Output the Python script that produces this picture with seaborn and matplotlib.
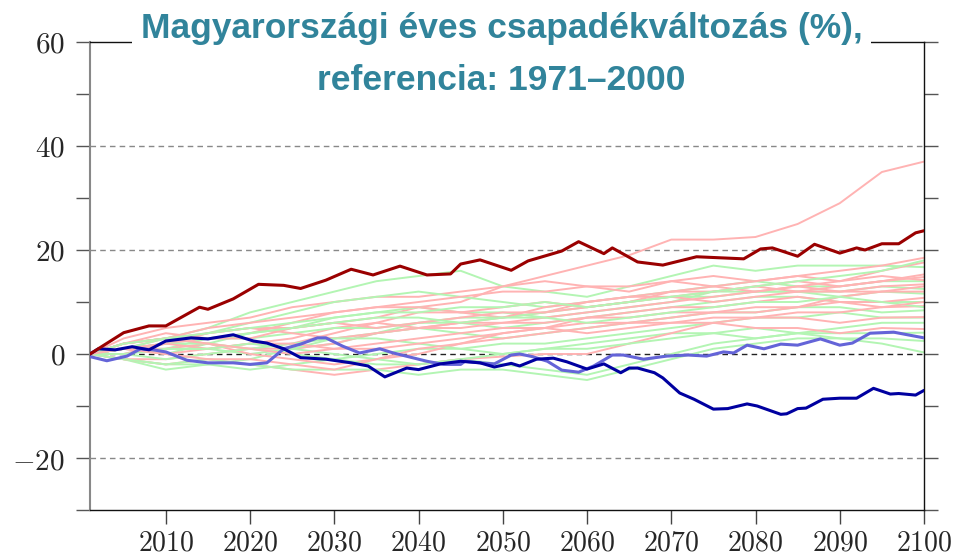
import numpy as np
import pandas as pd
import matplotlib
matplotlib.use("Agg")
import matplotlib.pyplot as plt
import seaborn as sns

# knot years for the light model lines
years_k = [2001, 2005, 2010, 2015, 2020, 2025, 2030, 2035, 2040, 2045, 2050,
           2055, 2060, 2065, 2070, 2075, 2080, 2085, 2090, 2095, 2100]

# light red (pink) model runs
pink_runs = {
    "p1": [0, 2, 3, 4, 5, 5, 6, 7, 9, 10, 13, 15, 17, 19, 22, 22, 22.5, 25, 29, 35, 37],
    "p2": [0, 3, 5, 6, 7, 9, 10, 11, 11, 12, 13, 14, 13, 12, 14, 15, 14, 15, 16, 17, 18.5],
    "p3": [0, 1, 2, 3, 4, 6, 8, 9, 10, 11, 12, 12, 13, 13, 14, 13, 14, 15, 14, 16, 17.6],
    "p4": [0, 2, 3, 2, 1, 2, 4, 6, 8, 8, 7, 8, 10, 11, 12, 12, 13, 14, 13, 14, 15.3],
    "p5": [0, 1, 0, 1, 2, 3, 5, 6, 5, 6, 7, 9, 10, 11, 11, 12, 13, 12, 13, 14, 14.8],
    "p6": [0, -1, -1, 0, 1, 1, 2, 4, 5, 6, 6, 7, 8, 9, 10, 11, 12, 13, 14, 15, 14.2],
    "p7": [0, 2, 4, 3, 3, 5, 6, 5, 6, 7, 8, 8, 9, 10, 11, 10, 11, 12, 12, 13, 13.4],
    "p8": [0, 1, 1, 2, 0, -1, -2, -1, 0, 2, 4, 5, 7, 8, 9, 9, 10, 11, 10, 10, 10.8],
    "p9": [0, 0, 2, 4, 5, 4, 3, 4, 5, 5, 6, 6, 7, 7, 8, 8, 9, 9, 10, 9, 9.2],
    "p10": [0, -1, -2, -1, -2, -3, -4, -3, -2, -1, -0.5, 0, 0, 2, 4, 6, 7, 7, 6, 7, 7.1],
    "p11": [0, 1, 2, 1, 2, 2, 1, 1, 2, 3, 4, 5, 4, 5, 6, 6, 5, 5, 4, 5, 4.8],
    "p12": [0, 2, 3, 5, 6, 7, 8, 9, 9, 8, 9, 10, 9, 10, 12, 13, 12, 13, 12, 12, 13],
    "p13": [0, 1, 3, 2, 1, 0, 1, 2, 3, 4, 5, 5, 6, 6, 7, 8, 8, 9, 11, 12, 12],
    "p14": [0, 1, 0, -1, -1, -2, -3, -1, 1, 2, 3, 4, 5, 6, 6, 7, 7, 8, 8, 9, 10],
}

# light green model runs
green_runs = {
    "g1": [0, 2, 3, 5, 8, 10, 12, 14, 15, 16, 13, 12, 11, 13, 15, 17, 16, 17, 17, 17, 16.7],
    "g2": [0, 1, 2, 4, 6, 8, 10, 11, 12, 11, 10, 9, 10, 11, 12, 13, 14, 13, 13, 14, 14],
    "g3": [0, 1, 0, 2, 4, 5, 7, 8, 9, 8, 8, 7, 8, 9, 10, 12, 12, 12, 12, 13, 12.5],
    "g4": [0, -1, -3, -2, -1, 1, 2, 4, 6, 7, 7, 8, 9, 10, 11, 11, 12, 12, 11, 12, 11.6],
    "g5": [0, 0, 1, 3, 3, 4, 5, 5, 6, 6, 5, 6, 7, 8, 9, 10, 11, 11, 10, 10, 10],
    "g6": [0, 1, 1, 1, 0, 1, 3, 4, 5, 4, 3, 4, 5, 6, 7, 8, 8, 9, 9, 8, 8.4],
    "g7": [0, -1, -2, -2, -3, -2, -1, 0, 1, 1, 2, 2, 3, 4, 5, 6, 7, 7, 8, 7, 7],
    "g8": [0, 0, -1, 0, 1, 0, -1, -2, -2, -1, -2, -3, -4, -2, 0, 2, 3, 4, 5, 6, 6.0],
    "g9": [0, 1, 2, 2, 1, 2, 3, 3, 2, 1, 0, 1, 2, 3, 4, 4, 5, 4, 4, 4, 4.1],
    "g10": [0, -1, -2, -1, -2, -3, -3, -3, -4, -3, -3, -4, -5, -3, -1, 1, 2, 3, 3, 3, 2.5],
    "g11": [0, 0, 1, 1, 2, 1, 0, -1, -2, -1, 0, 1, 1, 2, 3, 4, 3, 4, 3, 2, 0.3],
    "g12": [0, 2, 3, 4, 5, 6, 7, 8, 8, 9, 9, 10, 9, 10, 11, 12, 13, 14, 15, 16, 18],
    "g13": [0, 1, 3, 3, 4, 5, 6, 7, 7, 6, 7, 7, 6, 7, 8, 9, 10, 10, 11, 10, 9],
}

# highlighted runs (year, value)
max_years = [2001, 2005, 2008, 2010, 2014, 2015, 2018, 2021, 2024, 2026, 2029, 2032,
             2034.6, 2037.8, 2041, 2043.8, 2045, 2047.3, 2051, 2053, 2057, 2059, 2062,
             2063, 2066, 2069, 2073, 2078.6, 2080.6, 2082, 2085, 2087, 2090, 2092,
             2093, 2095, 2097, 2099, 2100]
max_vals = [0, 4.1, 5.4, 5.4, 9.0, 8.6, 10.6, 13.4, 13.2, 12.6, 14.2, 16.3,
            15.2, 16.9, 15.2, 15.4, 17.3, 18.1, 16.1, 17.9, 19.8, 21.6, 19.3,
            20.4, 17.7, 17.1, 18.7, 18.3, 20.2, 20.4, 18.8, 21.1, 19.4, 20.4,
            20.0, 21.2, 21.2, 23.3, 23.7]

min_years = [2001, 2002, 2004, 2006, 2008, 2010, 2013, 2015, 2018, 2020.4, 2022,
             2024, 2026, 2029, 2032, 2034, 2036, 2038.6, 2040, 2042.6, 2045, 2047.3,
             2049, 2051, 2052, 2054, 2056, 2057.6, 2060, 2062, 2064, 2065, 2066,
             2068, 2069, 2071, 2072.7, 2075, 2076.7, 2079, 2080.2, 2083, 2083.7,
             2085, 2086, 2088, 2090, 2092, 2094, 2096, 2097, 2099, 2100]
min_vals = [0, 1.0, 0.8, 1.4, 0.8, 2.5, 3.1, 2.9, 3.7, 2.5, 2.1,
            1.0, -0.7, -1.0, -1.7, -2.3, -4.4, -2.7, -3.0, -1.9, -1.4, -1.7,
            -2.5, -1.8, -2.3, -1.0, -0.8, -1.5, -2.9, -1.9, -3.6, -2.7, -2.7,
            -3.6, -4.6, -7.5, -8.7, -10.6, -10.5, -9.6, -10.0, -11.6, -11.5,
            -10.5, -10.4, -8.7, -8.5, -8.5, -6.6, -7.7, -7.6, -7.9, -7.0]

mid_years = [2001, 2003, 2005.4, 2007, 2008.5, 2010, 2012.5, 2015, 2018, 2020, 2022,
             2024, 2026, 2028, 2029, 2031, 2033, 2035.4, 2037, 2041, 2043, 2045,
             2045.5, 2047.3, 2049, 2051, 2052, 2053.5, 2055.3, 2057, 2059, 2060.8,
             2063, 2064.3, 2066.7, 2069.5, 2072, 2074.2, 2076.2, 2077.4, 2079, 2081,
             2083, 2085, 2087.7, 2090, 2091.5, 2093.6, 2096.4, 2100]
mid_vals = [-0.5, -1.3, -0.4, 1.0, 0.8, 0.4, -1.2, -1.7, -1.7, -2.0, -1.7,
            1.0, 1.9, 3.1, 3.1, 1.5, 0.2, 1.0, 0.2, -1.4, -2.0, -2.0,
            -1.4, -1.7, -1.9, -0.2, 0.0, -0.5, -1.4, -3.1, -3.5, -2.3,
            -0.2, -0.2, -1.0, -0.4, -0.2, -0.4, 0.4, 0.2, 1.7, 1.0,
            1.9, 1.7, 2.9, 1.7, 2.1, 4.0, 4.2, 3.1]

title = "Magyarországi éves csapadékváltozás (%),\nreferencia: 1971–2000"
y_labels = {60: "60", 40: "40", 20: "20", 0: "0", -20: "-20"}
x_tick_years = [2010, 2020, 2030, 2040, 2050, 2060, 2070, 2080, 2090, 2100]

PINK = "#ffb3b3"
GREEN = "#b3f5b3"

# long-form table for the light lines, pink and green interleaved
rows = []
order = []
pk, gk = list(pink_runs), list(green_runs)
for i in range(max(len(pk), len(gk))):
    for keys, runs in ((pk, pink_runs), (gk, green_runs)):
        if i < len(keys):
            order.append(keys[i])
            for yr, v in zip(years_k, runs[keys[i]]):
                rows.append((keys[i], yr, v))
light = pd.DataFrame(rows, columns=["run", "year", "value"])
palette = {k: PINK for k in pink_runs}
palette.update({k: GREEN for k in green_runs})

sns.set_style("white")
plt.rcParams["mathtext.fontset"] = "cm"

fig = plt.figure(figsize=(9.59, 5.55), dpi=100)
ax = fig.add_axes([90 / 959, 45 / 555, 834 / 959, 468 / 555])

# dashed reference lines
for v in [40, 20, -20]:
    ax.axhline(v, color="#888888", lw=1.0, ls=(0, (4, 3)), zorder=1)
ax.axhline(0, color="#222222", lw=1.0, ls=(0, (4, 3)), zorder=1)

sns.lineplot(data=light, x="year", y="value", hue="run", hue_order=order,
             palette=palette, estimator=None, sort=False, legend=False,
             linewidth=1.4, ax=ax, zorder=2)
sns.lineplot(x=mid_years, y=mid_vals, color="#6464d8", linewidth=2.2,
             estimator=None, ax=ax, zorder=3)
sns.lineplot(x=min_years, y=min_vals, color="#0000a0", linewidth=2.2,
             estimator=None, ax=ax, zorder=4)
sns.lineplot(x=max_years, y=max_vals, color="#9a0000", linewidth=2.2,
             estimator=None, ax=ax, zorder=4)

ax.set_xlim(2001, 2100)
ax.set_ylim(-30, 60)
ax.set_xlabel("")
ax.set_ylabel("")

ax.set_yticks(range(-30, 61, 10))
ax.set_yticklabels(["$" + y_labels[t] + "$" if t in y_labels else ""
                    for t in range(-30, 61, 10)])
ax.set_xticks(x_tick_years)
ax.set_xticklabels(["$%d$" % t for t in x_tick_years])
ax.tick_params(axis="y", which="both", left=True, right=True, direction="out",
               length=10, width=1, color="#555555", labelsize=21, pad=8)
ax.tick_params(axis="x", bottom=True, direction="out", length=10, width=1,
               color="#444444", labelsize=20, pad=3)

for side in ["top", "right", "bottom"]:
    ax.spines[side].set_visible(True)
    ax.spines[side].set_color("#111111")
    ax.spines[side].set_linewidth(1.0)
ax.spines["left"].set_color("#888888")
ax.spines["left"].set_linewidth(1.5)

fig.text(0.523, 0.902, title, ha="center", va="center", fontsize=25.5,
         fontweight="bold", color="#31849b", linespacing=1.72,
         family=["Liberation Sans", "DejaVu Sans"],
         bbox=dict(facecolor="white", edgecolor="none", pad=6))

fig.savefig("out.png", dpi=100, facecolor="white")
